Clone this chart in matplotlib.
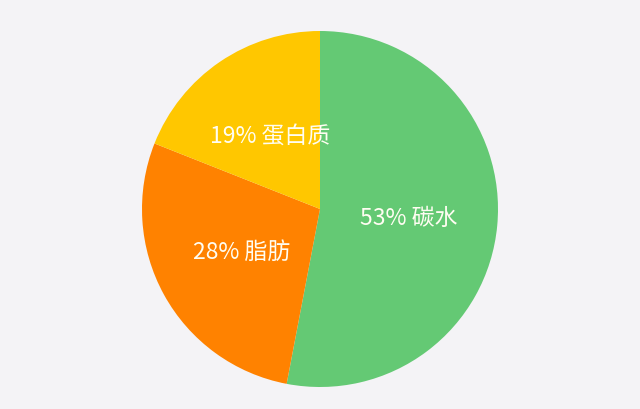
import matplotlib
matplotlib.use("Agg")
import matplotlib.pyplot as plt

labels = ["碳水", "脂肪", "蛋白质"]
shares = [53, 28, 19]
colors = ["#64c974", "#ff8200", "#ffc700"]

plt.rcParams["font.family"] = ["Noto Sans CJK SC", "DejaVu Sans"]

fig = plt.figure(figsize=(6.4, 4.1), dpi=100)
fig.patch.set_facecolor("#f4f3f6")

# pie centred at (320, 210) px, radius ~178 px
ax = fig.add_axes([(320 - 178) / 640, (200 - 178) / 410, 356 / 640, 356 / 410])
ax.set_facecolor("none")

texts = [f"{s}% {l}" for s, l in zip(shares, labels)]
wedges, lbls = ax.pie(shares, labels=texts, colors=colors, startangle=90,
                      counterclock=False, labeldistance=0.5,
                      wedgeprops=dict(linewidth=0),
                      textprops=dict(color="#fffdf2", fontsize=16.5,
                                     fontweight="light"))
for t in lbls:
    t.set_ha("center")
    t.set_va("center")
ax.set_xlim(-1, 1)
ax.set_ylim(-1, 1)
ax.set_aspect("equal")

fig.savefig("out.png", dpi=100, facecolor=fig.get_facecolor())
